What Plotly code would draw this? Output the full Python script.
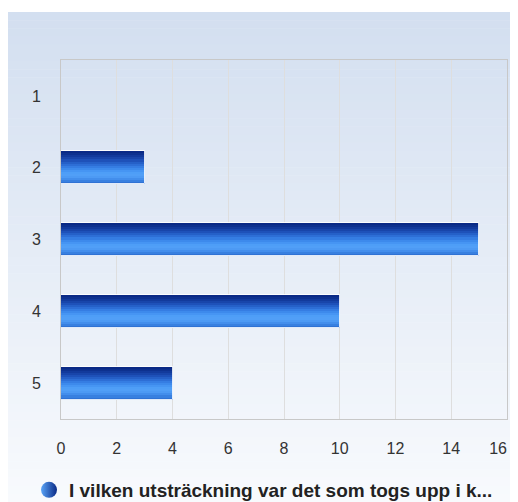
import plotly.graph_objects as go

# ---- data ----
categories = ["1", "2", "3", "4", "5"]
values = [0, 3, 15, 10, 4]
x_ticks = [0, 2, 4, 6, 8, 10, 12, 14, 16]
series_name = "I vilken utsträckning var det som togs upp i k..."

# ---- style ----
FONT = "Liberation Sans, Arial, sans-serif"
# page body has an 8px margin, so the figure is drawn at (8, 8)
OFF = 8
W, H = 518 - OFF, 502 - OFF
ML, MR, MT, MB = 61 - OFF, 518 - 507, 60 - OFF, 502 - 419
PW, PH = W - ML - MR, H - MT - MB

BAR_W = 0.46
band_colors = [
    "#0a2a86", "#0d318f", "#123a9c", "#1845aa", "#1e51b9", "#2560c8",
    "#2d6ed6", "#357de3", "#3d8aec", "#4695f3", "#4e9ef7", "#519ff7",
    "#4d9af4", "#438eec", "#3880e0", "#2f72d4",
]

fig = go.Figure()

nb = len(band_colors)
h = BAR_W / nb
for i, c in enumerate(band_colors):
    wband = h * 1.6 if i < nb - 1 else h
    fig.add_trace(go.Bar(
        x=values, y=categories, orientation="h",
        width=[wband] * len(categories),
        offset=[-BAR_W / 2 + i * h] * len(categories),
        marker=dict(color=c, line=dict(width=0)),
        showlegend=False, hoverinfo="skip",
    ))

# light outline
fig.add_trace(go.Bar(
    x=values, y=categories, orientation="h",
    width=[BAR_W] * len(categories),
    offset=[-BAR_W / 2] * len(categories),
    marker=dict(color="rgba(0,0,0,0)", line=dict(color="rgba(255,255,255,0.85)", width=1)),
    showlegend=False, hoverinfo="skip",
))

# legend entry
fig.add_trace(go.Scatter(
    x=[None], y=[None], mode="markers", name=series_name,
    marker=dict(symbol="circle", size=18, color="#5aa4f7",
                gradient=dict(type="horizontal", color="#0a2a86")),
))


def px2paper_x(px):
    return (px - OFF - ML) / PW


def px2paper_y(py):
    return (H - MB - (py - OFF)) / PH


# background gradient panel (reference pixel coordinates)
shapes = []
top_px, bot_px, left_px = 12, 502, 8
n = 60
top_c = (211, 223, 240)
bot_c = (248, 250, 253)
for k in range(n):
    y0 = top_px + (bot_px - top_px) * k / n
    y1 = top_px + (bot_px - top_px) * (k + 1) / n + 0.5
    t = k / (n - 1)
    r = round(top_c[0] + (bot_c[0] - top_c[0]) * t)
    g = round(top_c[1] + (bot_c[1] - top_c[1]) * t)
    b = round(top_c[2] + (bot_c[2] - top_c[2]) * t)
    shapes.append(dict(
        type="rect", xref="paper", yref="paper", layer="below",
        x0=px2paper_x(left_px), x1=px2paper_x(520),
        y0=px2paper_y(min(y1, 502)), y1=px2paper_y(y0),
        fillcolor=f"rgb({r},{g},{b})", line=dict(width=0),
    ))

# last x label is pulled inside the chart (as in the reference)
x_ticktext = [str(v) for v in x_ticks]
x_ticktext[-1] = x_ticktext[-1] + "\u00a0" * 4

fig.update_layout(
    width=W, height=H,
    margin=dict(l=ML, r=MR, t=MT, b=MB, pad=0, autoexpand=False),
    paper_bgcolor="white", plot_bgcolor="rgba(0,0,0,0)",
    barmode="overlay", bargap=0,
    shapes=shapes,
    font=dict(family=FONT, size=16, color="#333333"),
    showlegend=True,
    legend=dict(
        orientation="h", x=px2paper_x(29), xanchor="left",
        y=px2paper_y(490), yanchor="middle",
        font=dict(family=FONT, size=19, color="#222222", weight="bold"),
        bgcolor="rgba(0,0,0,0)",
    ),
)

fig.update_xaxes(
    range=[0, 16], tickvals=x_ticks, ticktext=x_ticktext,
    ticklabeloverflow="allow",
    showgrid=True, gridcolor="#dedede", gridwidth=1, zeroline=False,
    showline=True, linecolor="#c8c8c8", linewidth=1, mirror=True,
    ticks="outside", ticklen=15, tickcolor="rgba(0,0,0,0)",
    tickfont=dict(family=FONT, size=16, color="#333333"),
)
fig.update_yaxes(
    categoryorder="array", categoryarray=categories, autorange="reversed",
    showgrid=False, zeroline=False,
    showline=True, linecolor="#c8c8c8", linewidth=1, mirror=True,
    ticks="outside", ticklen=16, tickcolor="rgba(0,0,0,0)",
    tickfont=dict(family=FONT, size=16, color="#333333"),
)

fig.write_html("out.html")
